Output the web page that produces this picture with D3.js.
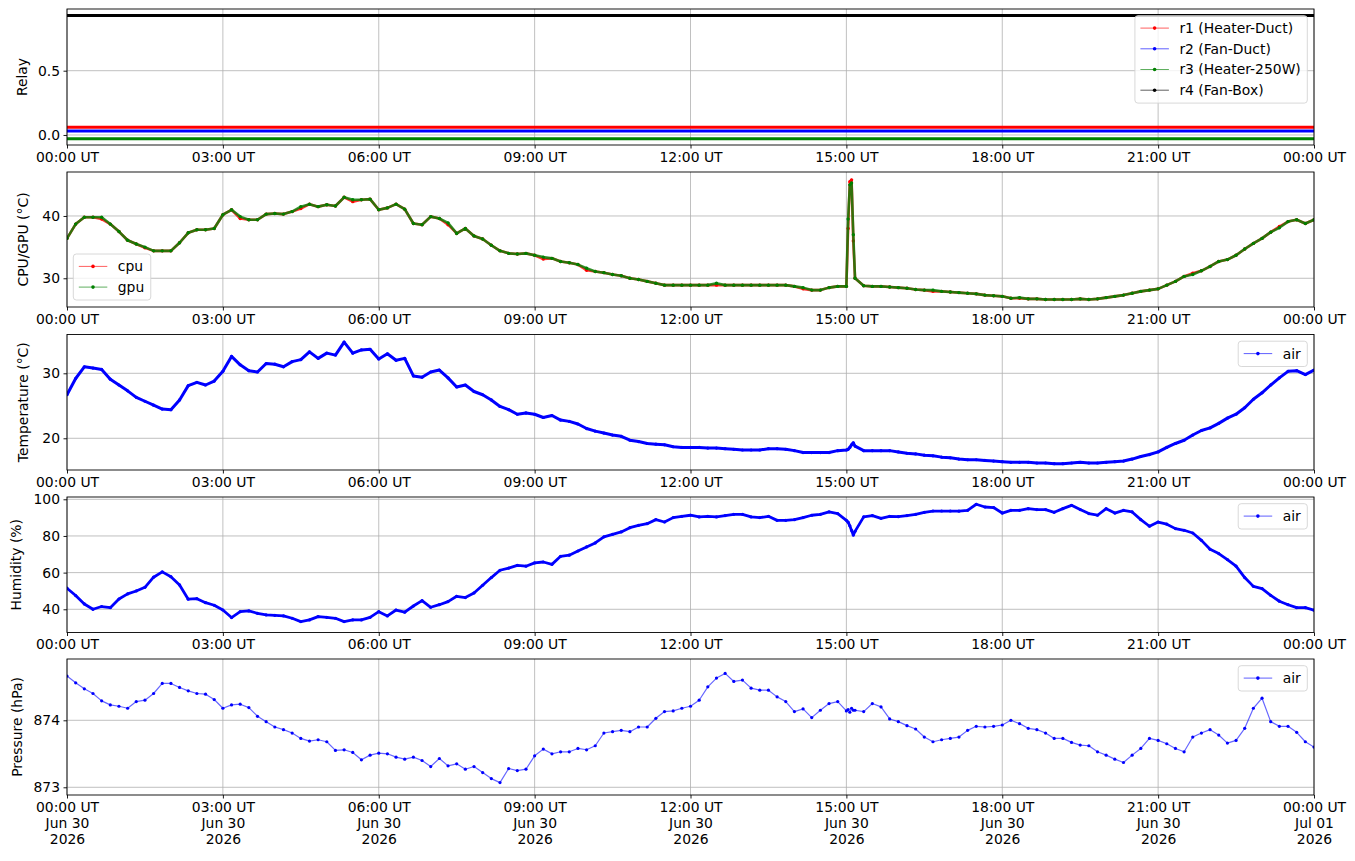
<!DOCTYPE html>
<html lang="en">
<meta charset="utf-8">
<head>
<script src="https://d3js.org/d3.v7.min.js"></script>
<style>
  body { margin: 0; background: #fff; }
  text { font-family: "DejaVu Sans", sans-serif; }
</style>
</head>
<body>
<script>
// sample times, minutes after 00:00 UT on 30 Jun 2026 (extra samples round the 15:05 spike)
const minutes = [
  0, 10, 20, 30, 40, 50, 60, 70, 80, 90, 100, 110, 120, 130, 140, 150, 160, 170, 180, 190,
  200, 210, 220, 230, 240, 250, 260, 270, 280, 290, 300, 310, 320, 330, 340, 350, 360, 370, 380, 390,
  400, 410, 420, 430, 440, 450, 460, 470, 480, 490, 500, 510, 520, 530, 540, 550, 560, 570, 580, 590,
  600, 610, 620, 630, 640, 650, 660, 670, 680, 690, 700, 710, 720, 730, 740, 750, 760, 770, 780, 790,
  800, 810, 820, 830, 840, 850, 860, 870, 880, 890, 900, 902, 904, 906, 908,
  910, 920, 930, 940, 950, 960, 970, 980, 990,
  1000, 1010, 1020, 1030, 1040, 1050, 1060, 1070, 1080, 1090,
  1100, 1110, 1120, 1130, 1140, 1150, 1160, 1170, 1180, 1190,
  1200, 1210, 1220, 1230, 1240, 1250, 1260, 1270, 1280, 1290,
  1300, 1310, 1320, 1330, 1340, 1350, 1360, 1370, 1380, 1390,
  1400, 1410, 1420, 1430, 1440
];

// relay states (as plotted, with their small offsets)
const relayNames = ["r1 (Heater-Duct)", "r2 (Fan-Duct)", "r3 (Heater-250W)", "r4 (Fan-Box)"];
const relayColors = ["#ff0000", "#0000ff", "#008000", "#000000"];
const relayMinutes = [0, 1440];
const relayLevels = [0.06, 0.03, -0.03, 0.93];

const cpu = [
  36.4, 38.7, 39.8, 39.8, 39.5, 38.7, 37.5, 36.1, 35.5, 34.9,
  34.4, 34.4, 34.4, 35.7, 37.3, 37.8, 37.8, 38.0, 40.2, 41.0,
  39.6, 39.4, 39.4, 40.3, 40.4, 40.3, 40.7, 41.2, 41.9, 41.5,
  41.8, 41.6, 43.0, 42.3, 42.6, 42.7, 41.0, 41.3, 41.9, 41.1,
  38.8, 38.6, 39.9, 39.6, 38.6, 37.2, 38.0, 36.8, 36.3, 35.3,
  34.4, 34.0, 33.9, 34.0, 33.7, 33.1, 33.2, 32.7, 32.5, 32.2,
  31.3, 31.1, 30.9, 30.6, 30.4, 30.0, 29.8, 29.5, 29.2, 28.9,
  28.9, 28.9, 28.9, 28.9, 28.9, 28.9, 28.9, 28.9, 28.9, 28.9,
  28.9, 28.9, 28.9, 28.9, 28.7, 28.3, 28.1, 28.1, 28.5, 28.7,
  28.7, 38.0, 45.5, 45.8, 36.0,
  30.0, 28.8, 28.7, 28.7, 28.6, 28.5, 28.4, 28.2, 28.1,
  27.9, 27.9, 27.8, 27.7, 27.6, 27.5, 27.3, 27.2, 27.1, 26.8,
  26.8, 26.7, 26.7, 26.6, 26.6, 26.6, 26.6, 26.7, 26.6, 26.7,
  26.9, 27.1, 27.3, 27.6, 27.9, 28.1, 28.3, 28.9, 29.5, 30.3,
  30.8, 31.2, 31.9, 32.7, 33.0, 33.7, 34.7, 35.6, 36.4, 37.4,
  38.3, 39.1, 39.4, 38.8, 39.4
];

const gpu = [
  36.4, 38.7, 39.8, 39.8, 39.8, 38.7, 37.5, 36.1, 35.5, 35.0,
  34.4, 34.4, 34.4, 35.7, 37.3, 37.8, 37.8, 38.0, 40.2, 41.0,
  39.9, 39.4, 39.4, 40.3, 40.4, 40.3, 40.7, 41.5, 41.9, 41.5,
  41.8, 41.6, 43.0, 42.6, 42.6, 42.7, 41.0, 41.3, 41.9, 41.1,
  38.8, 38.6, 39.9, 39.6, 38.9, 37.2, 38.0, 36.8, 36.3, 35.3,
  34.4, 34.0, 33.9, 34.0, 33.7, 33.4, 33.2, 32.7, 32.5, 32.2,
  31.6, 31.1, 30.9, 30.6, 30.4, 30.0, 29.8, 29.5, 29.2, 28.9,
  28.9, 28.9, 28.9, 28.9, 28.9, 29.2, 28.9, 28.9, 28.9, 28.9,
  28.9, 28.9, 28.9, 28.9, 28.7, 28.5, 28.1, 28.1, 28.5, 28.7,
  28.7, 39.5, 45.0, 45.3, 37.0,
  30.0, 28.8, 28.7, 28.7, 28.6, 28.5, 28.4, 28.2, 28.1,
  28.1, 27.9, 27.8, 27.7, 27.6, 27.5, 27.3, 27.2, 27.1, 26.8,
  26.9, 26.7, 26.7, 26.6, 26.6, 26.6, 26.6, 26.7, 26.6, 26.7,
  26.9, 27.1, 27.3, 27.6, 27.9, 28.1, 28.3, 28.9, 29.5, 30.3,
  30.6, 31.2, 31.9, 32.7, 33.0, 33.7, 34.7, 35.6, 36.4, 37.4,
  38.1, 39.1, 39.4, 38.8, 39.4
];

const airTemp = [
  26.7, 29.2, 31.0, 30.8, 30.6, 29.1, 28.2, 27.3, 26.3, 25.7,
  25.1, 24.5, 24.4, 25.9, 28.1, 28.6, 28.2, 28.8, 30.3, 32.6,
  31.3, 30.4, 30.2, 31.5, 31.4, 31.0, 31.8, 32.1, 33.3, 32.3,
  33.1, 32.8, 34.8, 33.1, 33.6, 33.7, 32.2, 33.0, 32.0, 32.3,
  29.6, 29.4, 30.2, 30.5, 29.3, 27.9, 28.2, 27.2, 26.7, 25.9,
  24.9, 24.4, 23.7, 23.9, 23.7, 23.2, 23.5, 22.8, 22.6, 22.2,
  21.5, 21.1, 20.8, 20.5, 20.3, 19.7, 19.5, 19.2, 19.1, 19.0,
  18.7, 18.6, 18.6, 18.6, 18.5, 18.5, 18.4, 18.3, 18.2, 18.2,
  18.2, 18.4, 18.4, 18.3, 18.1, 17.8, 17.8, 17.8, 17.8, 18.1,
  18.2, 18.3, 18.6, 19.0, 19.3,
  18.8, 18.1, 18.1, 18.1, 18.1, 17.9, 17.7, 17.6, 17.4,
  17.3, 17.1, 17.0, 16.8, 16.7, 16.7, 16.6, 16.5, 16.4, 16.3,
  16.3, 16.3, 16.2, 16.2, 16.1, 16.1, 16.2, 16.3, 16.2, 16.2,
  16.3, 16.4, 16.5, 16.8, 17.2, 17.5, 17.9, 18.6, 19.2, 19.7,
  20.5, 21.2, 21.6, 22.3, 23.1, 23.7, 24.7, 26.0, 27.0, 28.2,
  29.3, 30.3, 30.4, 29.8, 30.5
];

const airHumidity = [
  51.5, 47.5, 42.9, 40.0, 41.5, 40.9, 45.6, 48.4, 50.0, 52.0,
  57.5, 60.4, 57.8, 53.3, 45.5, 45.8, 43.6, 42.2, 39.6, 35.5,
  38.7, 39.1, 37.8, 36.9, 36.7, 36.4, 35.1, 33.3, 34.2, 36.0,
  35.6, 35.1, 33.3, 34.2, 34.2, 35.6, 38.7, 36.4, 39.6, 38.4,
  41.8, 44.7, 41.1, 42.5, 44.2, 47.1, 46.4, 48.9, 53.1, 57.3,
  61.3, 62.5, 64.0, 63.5, 65.3, 65.8, 64.5, 68.9, 69.5, 71.8,
  74.0, 76.2, 79.5, 80.9, 82.2, 84.5, 85.8, 86.7, 88.9, 87.6,
  90.0, 90.7, 91.3, 90.4, 90.7, 90.4, 91.1, 91.8, 91.8, 90.4,
  90.0, 90.7, 88.5, 88.5, 88.9, 90.0, 91.3, 91.8, 93.1, 92.2,
  88.5, 87.5, 85.5, 83.0, 80.5,
  82.5, 90.4, 91.1, 89.6, 90.7, 90.5, 91.1, 91.8, 92.9,
  93.6, 93.6, 93.6, 93.5, 94.0, 97.3, 95.8, 95.5, 92.5, 94.0,
  94.0, 94.9, 94.4, 94.4, 92.9, 94.9, 96.7, 94.4, 92.2, 91.3,
  94.9, 92.5, 94.0, 93.1, 88.9, 85.3, 87.6, 86.4, 84.0, 83.1,
  81.6, 77.6, 72.7, 70.4, 67.1, 63.5, 57.3, 52.5, 51.3, 47.6,
  44.4, 42.5, 40.9, 40.9, 39.5
];

const airPressure = [
  874.66, 874.56, 874.47, 874.40, 874.29, 874.23, 874.21, 874.18, 874.28, 874.30,
  874.40, 874.55, 874.55, 874.49, 874.44, 874.40, 874.39, 874.31, 874.18, 874.23,
  874.24, 874.19, 874.06, 873.98, 873.90, 873.86, 873.81, 873.73, 873.69, 873.71,
  873.68, 873.55, 873.56, 873.52, 873.41, 873.48, 873.51, 873.50, 873.45, 873.42,
  873.45, 873.40, 873.31, 873.43, 873.32, 873.35, 873.27, 873.31, 873.22, 873.13,
  873.07, 873.28, 873.25, 873.27, 873.47, 873.57, 873.50, 873.53, 873.53, 873.58,
  873.56, 873.62, 873.81, 873.83, 873.85, 873.83, 873.90, 873.90, 874.03, 874.13,
  874.14, 874.18, 874.21, 874.30, 874.50, 874.63, 874.70, 874.58, 874.60, 874.48,
  874.45, 874.45, 874.35, 874.28, 874.13, 874.17, 874.04, 874.15, 874.25, 874.28,
  874.14, 874.16, 874.12, 874.18, 874.15,
  874.15, 874.13, 874.25, 874.20, 874.02, 873.98, 873.92, 873.87, 873.75,
  873.68, 873.71, 873.73, 873.75, 873.85, 873.91, 873.90, 873.91, 873.93, 874.00,
  873.95, 873.88, 873.86, 873.81, 873.73, 873.73, 873.67, 873.63, 873.62, 873.53,
  873.48, 873.42, 873.37, 873.48, 873.58, 873.73, 873.70, 873.65, 873.58, 873.53,
  873.75, 873.81, 873.86, 873.78, 873.66, 873.70, 873.88, 874.18, 874.33, 873.98,
  873.91, 873.91, 873.82, 873.68, 873.60
];

const day0 = Date.UTC(2026, 5, 30);
const toDate = m => new Date(day0 + m * 60000);

const W = 1355, H = 861;
const left = 67, right = 1314;
const fontSize = 13.9;

const svg = d3.select("body").append("svg")
    .attr("width", W)
    .attr("height", H);

const x = d3.scaleUtc()
    .domain([toDate(0), toDate(1440)])
    .range([left, right]);
const xTicks = d3.utcHour.every(3).range(toDate(0), toDate(1441));

// one entry per subplot
const panels = [
  {top: 9, bottom: 145, domain: [-0.078, 0.98], ticks: [0, 0.5], fmt: d3.format(".1f"), label: "Relay", labelX: 22},
  {top: 172, bottom: 307, domain: [25.39, 47.06], ticks: [30, 40], fmt: d3.format("d"), label: "CPU/GPU (°C)", labelX: 23},
  {top: 334.5, bottom: 470, domain: [15.12, 35.97], ticks: [20, 30], fmt: d3.format("d"), label: "Temperature (°C)", labelX: 23},
  {top: 497, bottom: 632.5, domain: [27.34, 101.25], ticks: [40, 60, 80, 100], fmt: d3.format("d"), label: "Humidity (%)", labelX: 16},
  {top: 659, bottom: 795, domain: [872.885, 874.915], ticks: [873, 874], fmt: d3.format("d"), label: "Pressure (hPa)", labelX: 17}
];

function drawSeries(g, y, mins, vals, color, o) {
  const pts = mins.map((m, i) => [x(toDate(m)), y(vals[i])]);
  g.append("path")
    .attr("d", d3.line()(pts))
    .attr("fill", "none")
    .attr("stroke", color)
    .attr("stroke-width", o.lw)
    .attr("stroke-opacity", o.lo)
    .attr("stroke-linejoin", "round");
  if (o.r > 0) {
    g.append("g").selectAll("circle")
      .data(pts)
      .join("circle")
      .attr("cx", d => d[0])
      .attr("cy", d => d[1])
      .attr("r", o.r)
      .attr("fill", color);
  }
}

function addLegend(g, items, p, corner) {
  const rowH = 20.7;
  const lg = g.append("g");
  const box = lg.append("rect")
    .attr("rx", 3)
    .attr("fill", "#fff")
    .attr("fill-opacity", 0.8)
    .attr("stroke", "#d4d4d4")
    .attr("stroke-width", 0.9);
  let maxW = 0;
  items.forEach((it, k) => {
    const cy = 12.4 + k * rowH;
    lg.append("line")
      .attr("x1", 5.5).attr("x2", 34)
      .attr("y1", cy).attr("y2", cy)
      .attr("stroke", it.color)
      .attr("stroke-opacity", 0.7)
      .attr("stroke-width", 0.9);
    lg.append("circle")
      .attr("cx", 19.7).attr("cy", cy).attr("r", 1.8)
      .attr("fill", it.color);
    const t = lg.append("text")
      .attr("x", 44.5).attr("y", cy).attr("dy", "0.36em")
      .attr("font-size", fontSize)
      .attr("fill", "#000")
      .text(it.label);
    maxW = Math.max(maxW, t.node().getComputedTextLength());
  });
  const bw = 44.5 + maxW + 6.5;
  const bh = items.length * rowH + 4.6;
  box.attr("width", bw).attr("height", bh);
  const bx = corner === "ur" ? right - 6.7 - bw : left + 6.3;
  const by = corner === "ur" ? p.top + 6.7 : p.bottom - 7 - bh;
  lg.attr("transform", `translate(${bx},${by})`);
}

panels.forEach((p, idx) => {
  const g = svg.append("g");
  const y = d3.scaleLinear().domain(p.domain).range([p.bottom, p.top]);

  // grid
  g.append("g").selectAll("line")
    .data(xTicks)
    .join("line")
    .attr("x1", d => x(d)).attr("x2", d => x(d))
    .attr("y1", p.top).attr("y2", p.bottom)
    .attr("stroke", "#b0b0b0").attr("stroke-width", 0.8);
  g.append("g").selectAll("line")
    .data(p.ticks)
    .join("line")
    .attr("x1", left).attr("x2", right)
    .attr("y1", d => y(d)).attr("y2", d => y(d))
    .attr("stroke", "#b0b0b0").attr("stroke-width", 0.8);

  // clip the data to the axes box
  const clipId = "clip" + idx;
  svg.append("clipPath").attr("id", clipId)
    .append("rect")
    .attr("x", left).attr("y", p.top)
    .attr("width", right - left).attr("height", p.bottom - p.top);
  const plot = g.append("g").attr("clip-path", `url(#${clipId})`);

  if (idx === 0) {
    relayLevels.forEach((v, k) => {
      drawSeries(plot, y, relayMinutes, [v, v], relayColors[k], {lw: 3, lo: 1, r: 0});
    });
    addLegend(g, relayNames.map((n, k) => ({label: n, color: relayColors[k]})), p, "ur");
  } else if (idx === 1) {
    drawSeries(plot, y, minutes, cpu, "#ff0000", {lw: 2.6, lo: 0.8, r: 1.7});
    drawSeries(plot, y, minutes, gpu, "#008000", {lw: 2.6, lo: 0.8, r: 1.7});
    addLegend(g, [{label: "cpu", color: "#ff0000"}, {label: "gpu", color: "#008000"}], p, "ll");
  } else if (idx === 2) {
    drawSeries(plot, y, minutes, airTemp, "#0000ff", {lw: 3, lo: 1, r: 1.6});
    addLegend(g, [{label: "air", color: "#0000ff"}], p, "ur");
  } else if (idx === 3) {
    drawSeries(plot, y, minutes, airHumidity, "#0000ff", {lw: 2.8, lo: 1, r: 1.6});
    addLegend(g, [{label: "air", color: "#0000ff"}], p, "ur");
  } else {
    drawSeries(plot, y, minutes, airPressure, "#0000ff", {lw: 1.2, lo: 0.6, r: 1.6});
    addLegend(g, [{label: "air", color: "#0000ff"}], p, "ur");
  }

  // frame
  g.append("rect")
    .attr("x", left).attr("y", p.top)
    .attr("width", right - left).attr("height", p.bottom - p.top)
    .attr("fill", "none").attr("stroke", "#000").attr("stroke-width", 0.9);

  // y axis
  const ay = g.append("g")
    .attr("transform", `translate(${left},0)`)
    .call(d3.axisLeft(y).tickValues(p.ticks).tickFormat(p.fmt).tickSize(3.5).tickPadding(3.5));
  ay.select(".domain").remove();
  ay.attr("font-family", "DejaVu Sans").attr("font-size", fontSize);
  ay.selectAll(".tick line").attr("stroke-width", 0.9);

  // x axis
  const last = idx === panels.length - 1;
  const ax = g.append("g")
    .attr("transform", `translate(0,${p.bottom})`)
    .call(d3.axisBottom(x).tickValues(xTicks).tickSize(3.5).tickPadding(3.5)
      .tickFormat(d3.utcFormat("%H:%M UT")));
  ax.select(".domain").remove();
  ax.attr("font-family", "DejaVu Sans").attr("font-size", fontSize);
  ax.selectAll(".tick line").attr("stroke-width", 0.9);
  if (last) {
    ax.selectAll(".tick text").each(function(d) {
      const t = d3.select(this).attr("dy", null).text(null);
      [d3.utcFormat("%H:%M UT")(d), d3.utcFormat("%b %d")(d), d3.utcFormat("%Y")(d)]
        .forEach((s, k) => {
          t.append("tspan").attr("x", 0).attr("dy", k ? "1.17em" : "0.71em").text(s);
        });
    });
  }

  // y label
  g.append("text")
    .attr("transform", `translate(${p.labelX},${(p.top + p.bottom) / 2}) rotate(-90)`)
    .attr("text-anchor", "middle")
    .attr("dy", "0.36em")
    .attr("font-size", fontSize)
    .text(p.label);
});
</script>
</body>
</html>
